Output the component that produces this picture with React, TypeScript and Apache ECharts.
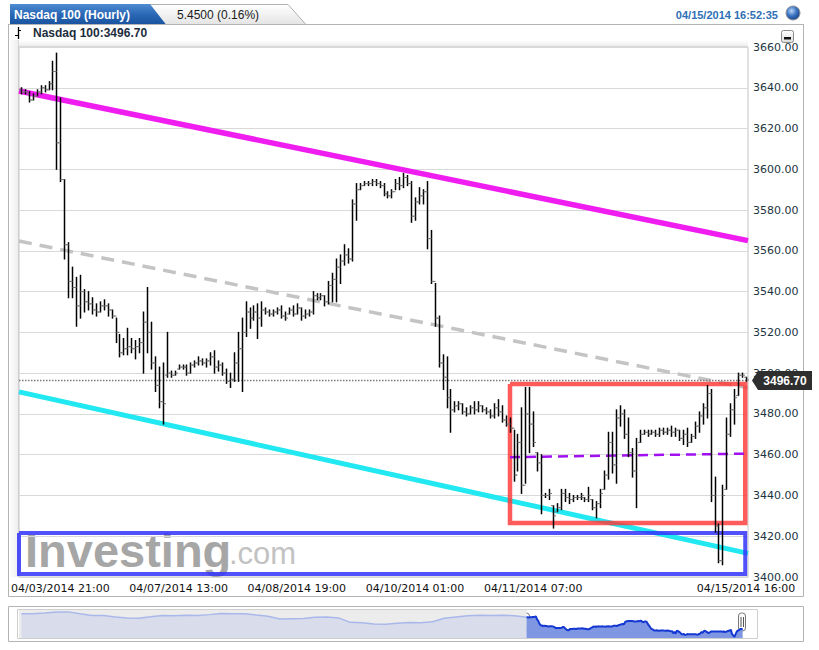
import React, { useEffect, useRef } from "react";
import * as echarts from "echarts";

// ---------------- data ----------------
const opens = [
  3639, 3638, 3637, 3634, 3636, 3638, 3640, 3639, 3642, 3648,
  3613, 3595, 3563, 3545, 3542, 3533, 3540, 3535, 3534, 3531,
  3530, 3533, 3533, 3531, 3528, 3520, 3510, 3512, 3513, 3512,
  3513, 3515, 3525, 3520, 3505, 3494, 3486, 3499, 3500, 3499,
  3502, 3503, 3503, 3500, 3504, 3505, 3506, 3505, 3506, 3508,
  3503, 3504, 3500, 3496, 3497, 3505, 3512, 3520, 3530, 3527,
  3530, 3527, 3531, 3530, 3529, 3530, 3531, 3528, 3529, 3531,
  3529, 3532, 3528, 3529, 3530, 3538, 3537, 3538, 3535, 3543,
  3546, 3552, 3555, 3558, 3556, 3583, 3590, 3592, 3593, 3593,
  3594, 3593, 3592, 3588, 3587, 3589, 3593, 3592, 3596, 3593,
  3577, 3584, 3587, 3589, 3566, 3545, 3527, 3505, 3498, 3488,
  3482, 3484, 3485, 3481, 3480, 3483, 3482, 3484, 3482, 3481,
  3479, 3483, 3481, 3477, 3475, 3473, 3450, 3466, 3445, 3480,
  3475, 3461, 3456, 3440, 3440, 3435, 3432, 3434, 3441, 3439,
  3438, 3439, 3439, 3439, 3438, 3438, 3434, 3436, 3443, 3450,
  3466, 3455, 3478, 3480, 3470, 3461, 3452, 3466, 3470, 3471,
  3470, 3471, 3470, 3472, 3471, 3472, 3471, 3472, 3468, 3470,
  3466, 3469, 3474, 3479, 3483, 3490, 3440, 3425, 3408, 3443,
  3470, 3482, 3489, 3499, 3498,
];
const highs = [
  3640, 3639, 3638, 3637, 3639, 3641, 3641, 3643, 3653, 3657,
  3635, 3595, 3564, 3552, 3547, 3548, 3541, 3540, 3537, 3534,
  3535, 3536, 3534, 3531, 3527, 3519, 3517, 3522, 3517, 3516,
  3517, 3530, 3542, 3525, 3508, 3503, 3505, 3520, 3501, 3501,
  3504, 3504, 3504, 3505, 3506, 3508, 3507, 3507, 3510, 3511,
  3506, 3505, 3502, 3500, 3510, 3520, 3527, 3535, 3532, 3533,
  3534, 3535, 3532, 3531, 3531, 3532, 3533, 3530, 3532, 3533,
  3534, 3532, 3531, 3531, 3540, 3539, 3539, 3538, 3545, 3549,
  3556, 3558, 3563, 3561, 3585, 3593, 3593, 3594, 3594, 3595,
  3595, 3594, 3593, 3589, 3590, 3595, 3596, 3598, 3597, 3594,
  3586, 3591, 3590, 3594, 3570, 3544, 3528, 3509, 3508, 3492,
  3486, 3486, 3485, 3483, 3484, 3486, 3486, 3484, 3483, 3482,
  3485, 3487, 3484, 3479, 3478, 3472, 3470, 3483, 3493, 3493,
  3481, 3461, 3460, 3441, 3443, 3435, 3436, 3443, 3443, 3441,
  3440, 3440, 3441, 3439, 3444, 3438, 3437, 3443, 3452, 3471,
  3471, 3482, 3484, 3482, 3478, 3463, 3468, 3472, 3472, 3472,
  3472, 3472, 3473, 3473, 3473, 3474, 3473, 3472, 3472, 3473,
  3470, 3476, 3481, 3485, 3494, 3492, 3449, 3426, 3445, 3478,
  3485, 3492, 3500, 3500, 3498,
];
const lows = [
  3637, 3637, 3633, 3634, 3636, 3637, 3638, 3639, 3639, 3600,
  3594, 3556, 3537, 3537, 3523, 3527, 3530, 3531, 3529, 3528,
  3530, 3531, 3528, 3527, 3515, 3508, 3509, 3509, 3510, 3507,
  3510, 3500, 3510, 3502, 3491, 3483, 3475, 3498, 3498, 3499,
  3502, 3502, 3499, 3500, 3503, 3504, 3504, 3503, 3504, 3500,
  3501, 3499, 3495, 3493, 3496, 3496, 3491, 3518, 3522, 3526,
  3517, 3523, 3529, 3528, 3528, 3529, 3527, 3526, 3529, 3528,
  3529, 3526, 3527, 3528, 3529, 3536, 3536, 3533, 3534, 3535,
  3535, 3544, 3553, 3554, 3555, 3575, 3590, 3592, 3592, 3592,
  3592, 3591, 3587, 3586, 3586, 3590, 3590, 3591, 3592, 3574,
  3575, 3583, 3583, 3561, 3544, 3523, 3503, 3492, 3483, 3471,
  3481, 3482, 3480, 3479, 3480, 3480, 3481, 3481, 3480, 3478,
  3478, 3479, 3476, 3474, 3471, 3447, 3452, 3441, 3446, 3461,
  3464, 3452, 3431, 3439, 3438, 3424, 3432, 3433, 3437, 3436,
  3437, 3438, 3438, 3437, 3437, 3433, 3429, 3434, 3443, 3448,
  3451, 3446, 3474, 3468, 3459, 3449, 3434, 3466, 3470, 3469,
  3470, 3469, 3469, 3470, 3470, 3469, 3469, 3467, 3465, 3464,
  3466, 3468, 3471, 3475, 3478, 3437, 3422, 3407, 3406, 3443,
  3469, 3475, 3489, 3498, 3496,
];
const closes = [
  3638, 3638, 3634, 3636, 3638, 3640, 3639, 3642, 3648, 3613,
  3595, 3563, 3545, 3542, 3533, 3540, 3535, 3534, 3531, 3530,
  3533, 3533, 3531, 3528, 3520, 3510, 3512, 3513, 3512, 3513,
  3515, 3525, 3520, 3505, 3494, 3486, 3485, 3500, 3499, 3500,
  3503, 3503, 3500, 3504, 3505, 3506, 3505, 3506, 3508, 3503,
  3504, 3500, 3496, 3497, 3505, 3512, 3520, 3530, 3527, 3530,
  3527, 3531, 3530, 3529, 3530, 3531, 3528, 3527, 3531, 3529,
  3532, 3528, 3529, 3530, 3538, 3537, 3538, 3535, 3543, 3546,
  3552, 3555, 3558, 3556, 3583, 3590, 3592, 3593, 3593, 3594,
  3593, 3592, 3588, 3587, 3589, 3593, 3592, 3596, 3593, 3577,
  3584, 3587, 3589, 3566, 3545, 3527, 3505, 3498, 3488, 3482,
  3484, 3485, 3481, 3480, 3483, 3482, 3484, 3482, 3481, 3479,
  3483, 3481, 3477, 3475, 3473, 3450, 3466, 3445, 3480, 3475,
  3466, 3456, 3440, 3440, 3441, 3430, 3434, 3441, 3439, 3438,
  3439, 3439, 3440, 3438, 3440, 3434, 3436, 3441, 3450, 3466,
  3455, 3478, 3480, 3470, 3461, 3452, 3460, 3470, 3471, 3470,
  3471, 3470, 3472, 3471, 3472, 3471, 3472, 3468, 3470, 3466,
  3469, 3474, 3479, 3483, 3490, 3440, 3425, 3408, 3440, 3470,
  3482, 3488, 3499, 3499, 3496.7,
];

const xTickLabels = [
  "04/03/2014 21:00",
  "04/07/2014 13:00",
  "04/08/2014 19:00",
  "04/10/2014 01:00",
  "04/11/2014 07:00",
  "04/15/2014 16:00",
];
const xTickIndex = [10, 40, 70, 100, 130, 184];

const yMin = 3400;
const yMax = 3660;
const yStep = 20;
const lastPrice = 3496.7;
const changeText = "5.4500 (0.16%)";
const titleText = "Nasdaq 100 (Hourly)";
const legendText = "Nasdaq 100:3496.70";
const timeText = "04/15/2014 16:52:35";

// navigator: earlier history (every 10 hours) before the shown window
const navHistory = [
  3679, 3679, 3686, 3700, 3700, 3678, 3659, 3657, 3640, 3628,
  3626, 3642, 3659, 3655, 3660, 3659, 3668, 3680, 3678, 3679,
  3664, 3650, 3617, 3620, 3622, 3636, 3640, 3630, 3578, 3574,
  3558, 3555, 3566, 3576, 3574, 3585, 3625, 3640, 3655, 3660,
  3658, 3660, 3655,
];
const navStep = 10;

// drawn annotations (bar-index, price)
const magentaLine = [[-0.5, 3638.4], [184.5, 3565.0]];
const cyanLine = [[-0.5, 3490.8], [184.5, 3411.6]];
const grayDashLine = [[-0.5, 3564.8], [184.5, 3492.7]];
const redBox = [[124.1, 3494.7], [183.8, 3426.5]];
const blueBox = [[-0.5, 3421.6], [183.8, 3401.5]];
const purpleDash = [[124.1, 3458.8], [183.8, 3460.5]];

const FONT = "'Liberation Sans', Arial, sans-serif";
const AXIS_FONT = "'DejaVu Sans', Verdana, sans-serif";

function boxPath(b: number[][]) {
  const [[x1, y1], [x2, y2]] = b;
  return [[x1, y1], [x2, y1], [x2, y2], [x1, y2], [x1, y1]];
}

export default function App() {
  const ref = useRef<HTMLDivElement>(null);

  useEffect(() => {
    document.body.style.margin = "0";
    if (!ref.current) return;
    const chart = echarts.init(ref.current, undefined, { renderer: "svg" });
    const N = closes.length;
    const categories = closes.map((_, i) => {
      const t = xTickIndex.indexOf(i);
      return t >= 0 ? xTickLabels[t] : String(i);
    });
    const ohlc = closes.map((c, i) => [i, opens[i], c, lows[i], highs[i]]);
    const navHist = navHistory.map((v, k) => [(k - navHistory.length) * navStep, v]);
    navHist.push([0, closes[0]]);
    const navSel = closes.map((v, i) => [i, v]);
    const navMin = -(navHistory.length * navStep) - 2;

    const overlay = (data: number[][], color: string, width: number, dash?: number[], z = 2) => ({
      type: "line",
      xAxisIndex: 1,
      yAxisIndex: 0,
      data,
      symbol: "none",
      clip: false,
      silent: true,
      z,
      lineStyle: { color, width, type: dash ? dash : "solid", cap: "butt", join: "miter" },
    });

    const handle = (x: number) => ({
      type: "group",
      x,
      y: 613,
      children: [
        { type: "rect", shape: { x: -3.5, y: 0, width: 7, height: 18, r: 3 }, style: { fill: "#fbfbfb", stroke: "#777", lineWidth: 1 } },
        { type: "line", shape: { x1: -1, y1: 4, x2: -1, y2: 14 }, style: { stroke: "#555", lineWidth: 1 } },
        { type: "line", shape: { x1: 1.5, y1: 4, x2: 1.5, y2: 14 }, style: { stroke: "#555", lineWidth: 1 } },
      ],
      z: 50,
    });

    const option: any = {
      animation: false,
      backgroundColor: "#ffffff",
      textStyle: { fontFamily: FONT },
      grid: [
        { left: 19, top: 47, width: 729, height: 530, show: true, borderColor: "#c4c4c4", borderWidth: 1, backgroundColor: "transparent" },
        { left: 19, top: 610, width: 726, height: 28 },
      ],
      xAxis: [
        {
          type: "category",
          gridIndex: 0,
          data: categories,
          boundaryGap: true,
          axisLine: { show: false },
          axisTick: { show: false },
          splitLine: { show: false },
          axisLabel: {
            interval: (i: number) => xTickIndex.indexOf(i) >= 0,
            color: "#111",
            fontSize: 11,
            lineHeight: 11,
            fontFamily: AXIS_FONT,
            margin: 6,
          },
        },
        { type: "value", gridIndex: 0, min: -0.5, max: N - 0.5, show: false },
        { type: "value", gridIndex: 1, min: navMin, max: N + 1, show: false },
      ],
      yAxis: [
        {
          type: "value",
          gridIndex: 0,
          position: "right",
          min: yMin,
          max: yMax,
          interval: yStep,
          axisLine: { show: false },
          axisTick: { show: false },
          splitLine: { lineStyle: { color: "#d9d9d9", width: 1 } },
          axisLabel: {
            formatter: (v: number) => v.toFixed(2),
            color: "#1c3442",
            fontSize: 11,
            lineHeight: 11,
            fontFamily: AXIS_FONT,
            margin: 5,
          },
        },
        { type: "value", gridIndex: 1, min: 3395, max: 3722, show: false },
      ],
      series: [
        overlay(grayDashLine, "#c4c4c4", 3.5, [13, 8], 2),
        overlay(magentaLine, "#f01df0", 5.5, undefined, 2),
        overlay(cyanLine, "#22e8f2", 5, undefined, 2),
        overlay(boxPath(blueBox), "rgba(50,50,250,0.85)", 4, undefined, 3),
        overlay(boxPath(redBox), "rgba(255,55,55,0.82)", 4.5, undefined, 3),
        overlay(purpleDash, "#a010f0", 2.5, [10, 6], 3),
        {
          type: "custom",
          name: "last",
          xAxisIndex: 0,
          yAxisIndex: 0,
          z: 4,
          silent: true,
          data: [[N - 1, lastPrice]],
          encode: { x: 0, y: 1 },
          renderItem: (params: any, api: any) => {
            const cs = params.coordSys;
            const y = Math.round(api.coord([N - 1, api.value(1)])[1]) + 0.5;
            const left = cs.x;
            const right = cs.x + cs.width;
            return {
              type: "group",
              children: [
                { type: "line", shape: { x1: left, y1: y, x2: right, y2: y }, style: { stroke: "#7a7a7a", lineWidth: 1.4, lineDash: [1.5, 1.5] } },
                {
                  type: "polygon",
                  shape: { points: [[right + 4, y], [right + 10, y - 9.5], [right + 64, y - 9.5], [right + 64, y + 9.5], [right + 10, y + 9.5]] },
                  style: { fill: "#2e2e2e" },
                },
                {
                  type: "text",
                  style: {
                    text: lastPrice.toFixed(2),
                    x: right + 37,
                    y: y,
                    fill: "#ffffff",
                    font: `bold 12px ${FONT}`,
                    align: "center",
                    verticalAlign: "middle",
                    textAlign: "center",
                    textVerticalAlign: "middle",
                  },
                },
              ],
            };
          },
        },
        {
          type: "custom",
          name: "Nasdaq 100",
          xAxisIndex: 0,
          yAxisIndex: 0,
          z: 5,
          silent: true,
          data: ohlc,
          encode: { x: 0, y: [1, 2, 3, 4] },
          renderItem: (params: any, api: any) => {
            const i = api.value(0);
            const o = api.coord([i, api.value(1)]);
            const c = api.coord([i, api.value(2)]);
            const l = api.coord([i, api.value(3)]);
            const h = api.coord([i, api.value(4)]);
            const x = Math.round(h[0]) + 0.5;
            return {
              type: "group",
              children: [
                { type: "line", shape: { x1: x, y1: h[1] - 0.5, x2: x, y2: l[1] + 0.5 }, style: { stroke: "#000", lineWidth: 1.5 } },
                { type: "line", shape: { x1: x - 2.5, y1: o[1], x2: x, y2: o[1] }, style: { stroke: "#777", lineWidth: 1 } },
                { type: "line", shape: { x1: x, y1: c[1], x2: x + 2.5, y2: c[1] }, style: { stroke: "#777", lineWidth: 1 } },
              ],
            };
          },
        },
        {
          type: "line",
          xAxisIndex: 2,
          yAxisIndex: 1,
          data: navHist,
          symbol: "none",
          silent: true,
          lineStyle: { color: "#a9b8ea", width: 1.5 },
          areaStyle: { color: "#d9dceb", opacity: 1, origin: "start" },
          markArea: {
            silent: true,
            itemStyle: { color: "#ececec" },
            data: [[{ xAxis: navMin, yAxis: 3395 }, { xAxis: 0, yAxis: 3722 }]],
          },
          z: 2,
        },
        {
          type: "line",
          xAxisIndex: 2,
          yAxisIndex: 1,
          data: navSel,
          symbol: "none",
          silent: true,
          lineStyle: { color: "#1438d2", width: 2 },
          areaStyle: { color: "#7f97e3", opacity: 1, origin: "start" },
          z: 3,
        },
      ],
      graphic: [
        // main panel
        { type: "rect", z: -20, shape: { x: 8.5, y: 24.5, width: 795, height: 572 }, style: { fill: "#ffffff", stroke: "#b4b4b4", lineWidth: 1 } },
        { type: "rect", z: -19, shape: { x: 9, y: 40, width: 739, height: 7 }, style: { fill: new echarts.graphic.LinearGradient(0, 0, 0, 1, [{ offset: 0, color: "#ffffff" }, { offset: 1, color: "#ebebeb" }]) } },
        { type: "rect", z: -19, shape: { x: 9, y: 40, width: 10, height: 537 }, style: { fill: new echarts.graphic.LinearGradient(0, 0, 1, 0, [{ offset: 0, color: "#ffffff" }, { offset: 1, color: "#ececec" }]) } },
        { type: "line", z: -18, shape: { x1: 18.5, y1: 40, x2: 18.5, y2: 577 }, style: { stroke: "#d8d8d8", lineWidth: 1 } },
        // navigator panel
        { type: "rect", z: -20, shape: { x: 8.5, y: 606.5, width: 795, height: 35 }, style: { fill: "#ffffff", stroke: "#b4b4b4", lineWidth: 1 } },
        { type: "rect", z: -19, shape: { x: 17.5, y: 609.5, width: 740, height: 29 }, style: { fill: "#ffffff", stroke: "#cfcfcf", lineWidth: 1 } },
        handle(526),
        handle(742),
        // tabs
        {
          type: "polygon",
          z: 10,
          shape: { points: [[140, 4.5], [288, 4.5], [306, 24.5], [150, 24.5]] },
          style: { fill: new echarts.graphic.LinearGradient(0, 0, 0, 1, [{ offset: 0, color: "#ffffff" }, { offset: 1, color: "#e4e4e4" }]), stroke: "#b0b0b0", lineWidth: 1 },
        },
        {
          type: "polygon",
          z: 11,
          shape: { points: [[10, 4], [150, 4], [166, 24.5], [10, 24.5]] },
          style: { fill: new echarts.graphic.LinearGradient(0, 0, 0, 1, [{ offset: 0, color: "#4f8cd2" }, { offset: 0.5, color: "#2a68b6" }, { offset: 1, color: "#1a539f" }]) },
        },
        { type: "line", z: 12, shape: { x1: 8, y1: 24.5, x2: 804, y2: 24.5 }, style: { stroke: "#b4b4b4", lineWidth: 1 } },
        { type: "text", z: 13, style: { text: titleText, x: 14, y: 14.5, fill: "#ffffff", font: `bold 12px ${FONT}`, verticalAlign: "middle", textVerticalAlign: "middle" } },
        { type: "text", z: 13, style: { text: changeText, x: 177, y: 14.5, fill: "#1a1a1a", font: `12px ${FONT}`, verticalAlign: "middle", textVerticalAlign: "middle" } },
        { type: "text", z: 13, style: { text: timeText, x: 778, y: 14.5, fill: "#2f6fb5", font: `bold 11px ${FONT}`, align: "right", textAlign: "right", verticalAlign: "middle", textVerticalAlign: "middle" } },
        {
          type: "circle",
          z: 13,
          shape: { cx: 793, cy: 13, r: 7 },
          style: {
            fill: new echarts.graphic.RadialGradient(0.4, 0.35, 0.7, [{ offset: 0, color: "#b9d6f5" }, { offset: 0.5, color: "#3d74c2" }, { offset: 1, color: "#143f85" }]),
            stroke: "#9a9a9a",
            lineWidth: 1,
          },
        },
        // minimize button
        { type: "rect", z: 13, shape: { x: 781.5, y: 30.5, width: 12, height: 12, r: 2 }, style: { fill: new echarts.graphic.LinearGradient(0, 0, 0, 1, [{ offset: 0, color: "#ffffff" }, { offset: 1, color: "#dcdcdc" }]), stroke: "#8a8a8a", lineWidth: 1 } },
        { type: "rect", z: 14, shape: { x: 784, y: 37, width: 7, height: 2.5 }, style: { fill: "#111" } },
        // legend line
        { type: "line", z: 13, shape: { x1: 18.5, y1: 27, x2: 18.5, y2: 39 }, style: { stroke: "#000", lineWidth: 1.3 } },
        { type: "line", z: 13, shape: { x1: 15, y1: 35.5, x2: 18.5, y2: 35.5 }, style: { stroke: "#000", lineWidth: 1 } },
        { type: "line", z: 13, shape: { x1: 18.5, y1: 30.5, x2: 21, y2: 30.5 }, style: { stroke: "#000", lineWidth: 1 } },
        { type: "text", z: 13, style: { text: legendText, x: 33, y: 33, fill: "#1b2d3c", font: `bold 12px ${FONT}`, verticalAlign: "middle", textVerticalAlign: "middle" } },
        // watermark
        { type: "text", z: 0, style: { text: "Investing", x: 25, y: 550, fill: "#a6a6a6", font: `bold 47px ${FONT}`, verticalAlign: "middle", textVerticalAlign: "middle" } },
        { type: "text", z: 0, style: { text: ".com", x: 229, y: 553, fill: "#c2c2c2", font: `31px ${FONT}`, verticalAlign: "middle", textVerticalAlign: "middle" } },
      ],
    };

    chart.setOption(option);
    return () => chart.dispose();
  }, []);

  return <div ref={ref} style={{ width: 819, height: 650 }} />;
}
